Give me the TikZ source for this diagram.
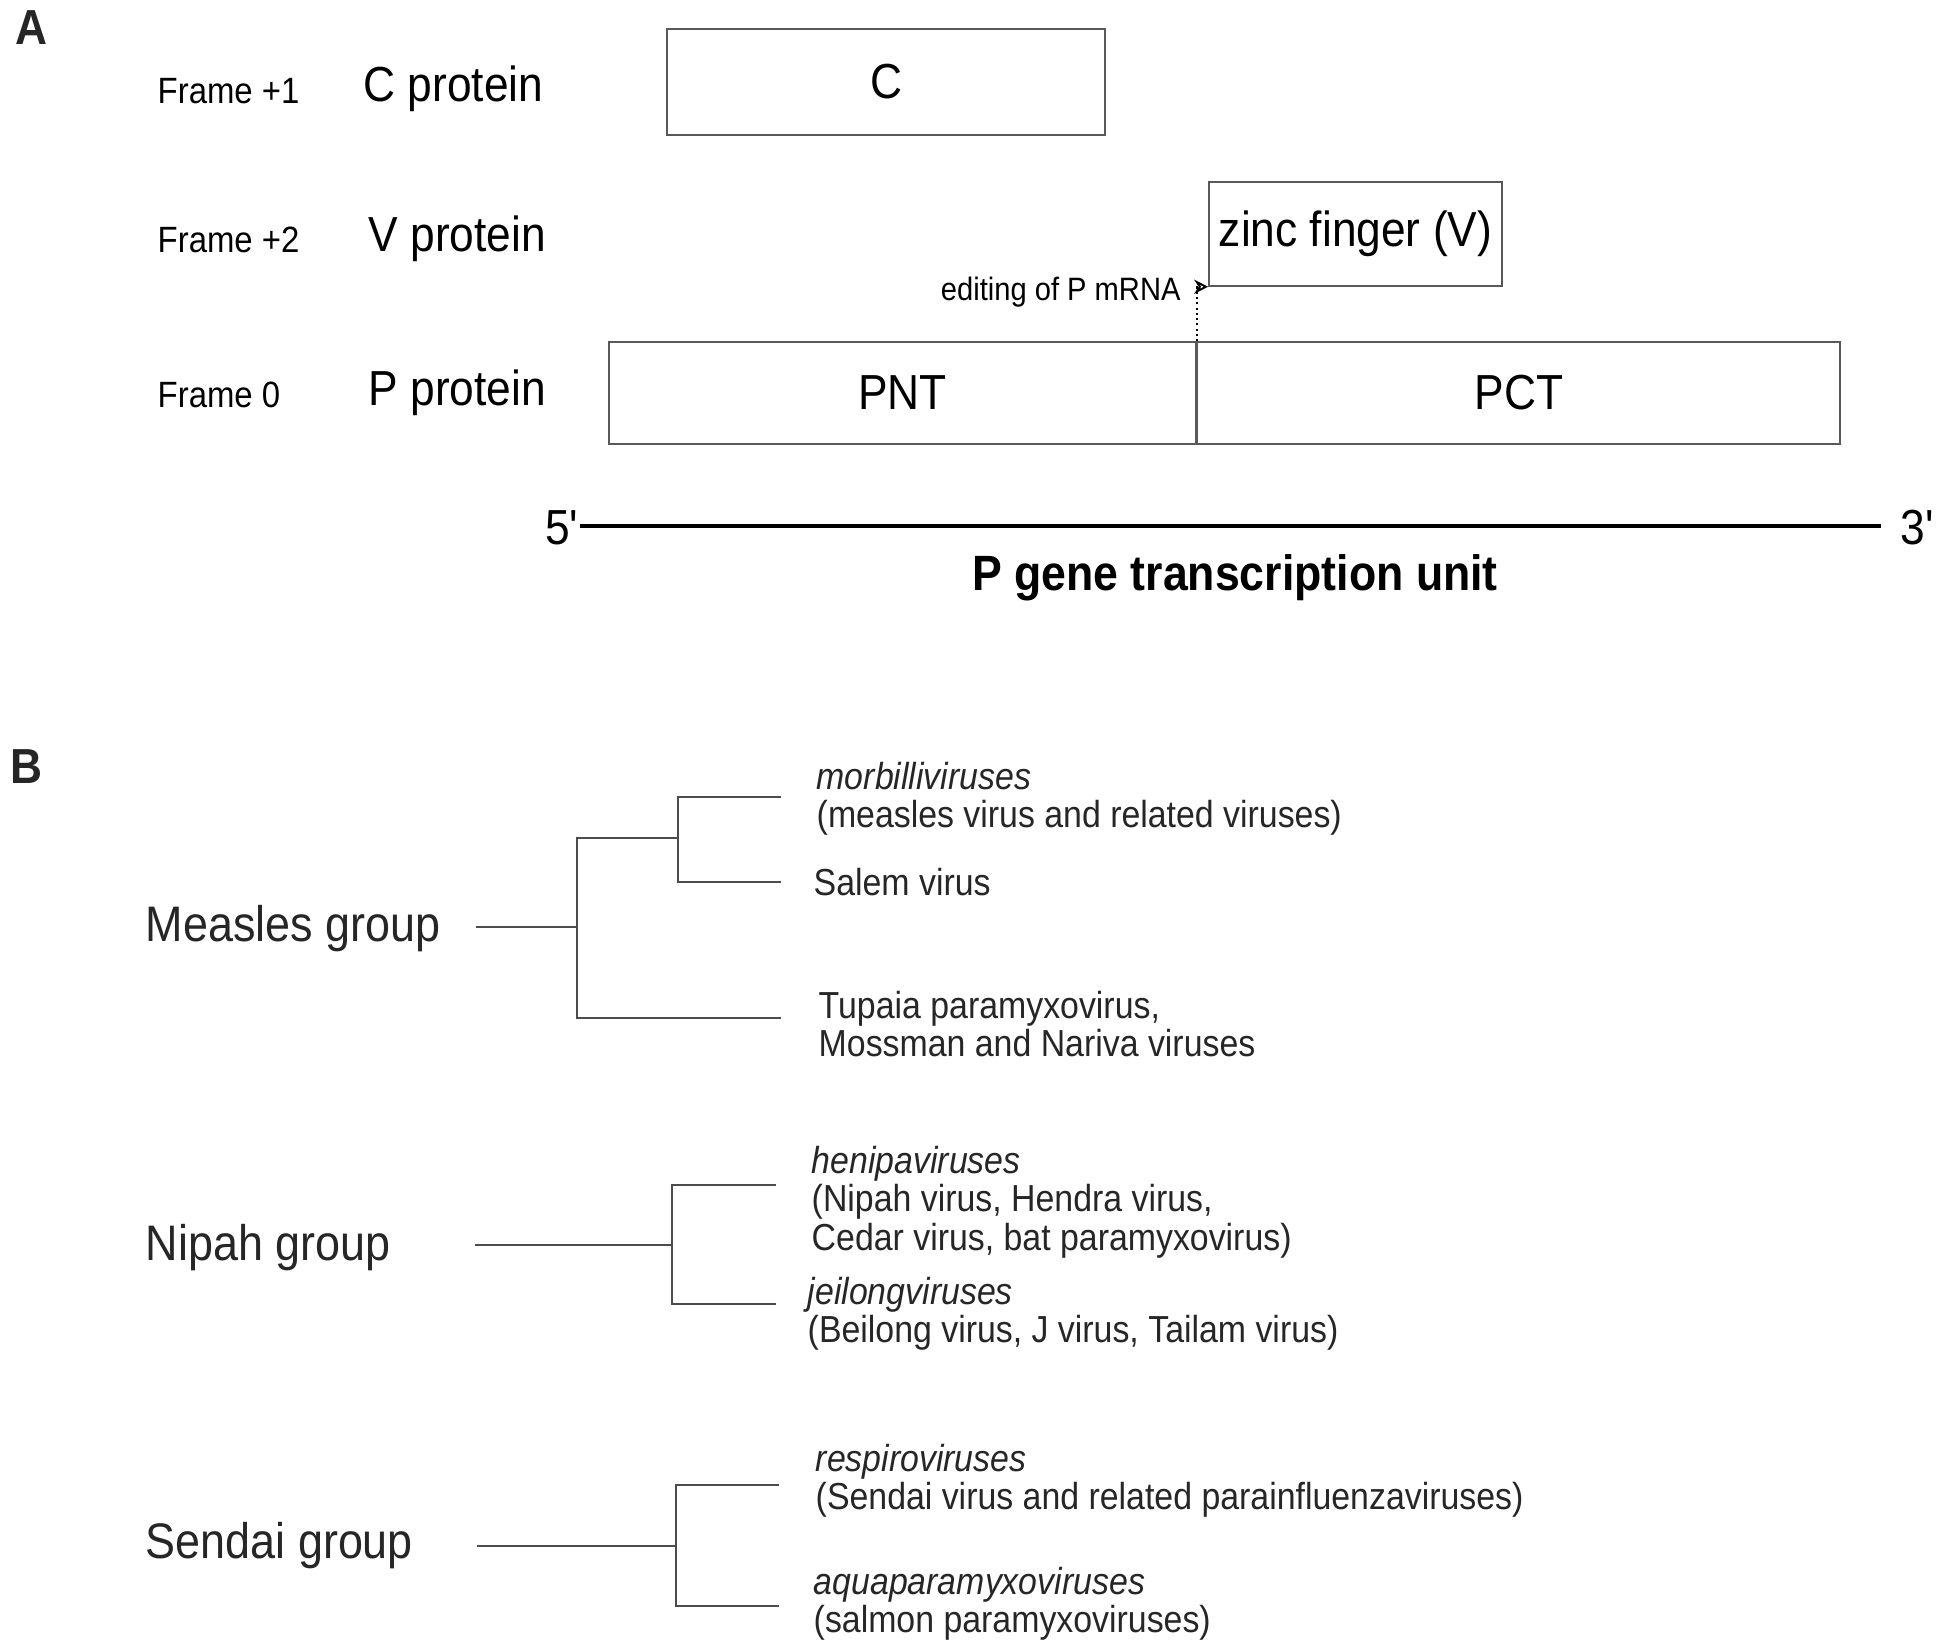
\documentclass[tikz,border=0pt]{standalone}
\usepackage{fontspec}
\setmainfont{Liberation Sans}[FakeStretch=0.9]
\usepackage{tikz}
\usetikzlibrary{arrows.meta, positioning}
\tikzstyle{big} = [inner sep=0pt, font=\fontsize{14}{16}\selectfont]
\tikzstyle{small} = [inner sep=0pt, font=\fontsize{10.4}{12}\selectfont]
\tikzstyle{leaf} = [inner sep=0pt, align=left, font=\fontsize{10.7}{10.9}\selectfont, text=black!85]
\tikzstyle{grp} = [inner sep=0pt, anchor=west, font=\fontsize{14.2}{16}\selectfont, text=black!85]
\tikzstyle{panel} = [inner sep=0pt, font=\fontsize{14}{16}\bfseries\selectfont, text=black!85]
\tikzstyle{frame} = [draw=black!65, line width=0.4pt, inner sep=2pt, big]
\tikzstyle{tree} = [draw=black!70, line width=0.45pt]
\tikzstyle{rna} = [line width=0.9pt]
\tikzstyle{edit} = [dash pattern=on 0.6pt off 0.9pt, line width=0.55pt, -{Stealth[open, length=4pt, width=4pt]}]

\begin{document}
\begin{tikzpicture}[x=0.01cm, y=-0.01cm]
    \useasboundingbox (0,0) rectangle (1944,1650);
    % panel A
    \node[panel] (A) at (31,28) {A};
    \node[small, anchor=west] (f1) at (157,91) {Frame +1};
    \node[small, anchor=west] (f2) at (157,240) {Frame +2};
    \node[small, anchor=west] (f0) at (157,395) {Frame 0};
    \node[big, anchor=west] (cprot) at (363,89) {C protein};
    \node[big, anchor=west] (vprot) at (368,239) {V protein};
    \node[big, anchor=west] (pprot) at (368,393) {P protein};
    \node[frame, minimum width=4.38cm, minimum height=1.06cm] (cbox) at (886,82) {C};
    \node[frame, minimum width=2.93cm, minimum height=1.04cm] (zinc) at (1355.5,234) {\raisebox{0.3cm}{}zinc finger (V)};
    \node[frame, minimum width=5.87cm, minimum height=1.02cm] (pnt) at (902.5,393) {PNT};
    \node[frame, minimum width=6.42cm, minimum height=1.02cm, anchor=west] (pct) at (pnt.east) {PCT};
    \draw[edit] (pnt.north east) |- (zinc.south west);
    \node[small, font=\fontsize{9.2}{11}\selectfont, left=0.27cm of zinc.south west, yshift=-0.05cm] (editing) {editing of P mRNA};
    \node[big, anchor=east] (five) at (580,528) {5\textquotesingle};
    \node[big, anchor=west] (three) at (1900,528) {3\textquotesingle};
    \draw[rna, shorten >=5.4pt] (five.east |- 0,526) -- (three.west |- 0,526);
    \node[big, font=\fontsize{14.1}{16}\bfseries\selectfont] (unit) at (1235,578) {P gene transcription unit};

    % panel B
    \node[panel] (B) at (27,767) {B};
    \node[grp] (measles) at (145,929) {Measles group};
    \node[grp] (nipah) at (145,1248) {Nipah group};
    \node[grp] (sendai) at (145,1546) {Sendai group};

    \coordinate (mroot) at (476,927);
    \coordinate (mfork) at (577,927);
    \coordinate (msub) at (678,838);
    \coordinate (mleaf1) at (781,797);
    \coordinate (mleaf2) at (781,882);
    \coordinate (mleaf3) at (781,1018);
    \draw[tree] (mroot) -- (mfork) |- (msub);
    \draw[tree] (mfork) |- (mleaf3);
    \draw[tree] (mleaf1) -| (msub) |- (mleaf2);
    \node[leaf, right=0.35cm of mleaf1, yshift=-0.02cm] (morb) {\textit{morbilliviruses}\\(measles virus and related viruses)};
    \node[leaf, right=0.32cm of mleaf2] (salem) {Salem virus};
    \node[leaf, right=0.37cm of mleaf3, yshift=-0.06cm] (tupaia) {Tupaia paramyxovirus,\\Mossman and Nariva viruses};

    \coordinate (nroot) at (475,1245);
    \coordinate (nfork) at (672,1245);
    \coordinate (nleaf1) at (776,1185);
    \coordinate (nleaf2) at (776,1304);
    \draw[tree] (nroot) -- (nfork);
    \draw[tree] (nleaf1) -| (nfork) |- (nleaf2);
    \node[leaf, right=0.35cm of nleaf1, yshift=-0.17cm] (heni) {\textit{henipaviruses}\\(Nipah virus, Hendra virus,\\Cedar virus, bat paramyxovirus)};
    \node[leaf, right=0.31cm of nleaf2, yshift=-0.10cm] (jeil) {\textit{jeilongviruses}\\(Beilong virus, J virus, Tailam virus)};

    \coordinate (sroot) at (477,1546);
    \coordinate (sfork) at (676,1546);
    \coordinate (sleaf1) at (779,1485);
    \coordinate (sleaf2) at (779,1606);
    \draw[tree] (sroot) -- (sfork);
    \draw[tree] (sleaf1) -| (sfork) |- (sleaf2);
    \node[leaf, right=0.36cm of sleaf1, yshift=0.04cm] (respi) {\textit{respiroviruses}\\(Sendai virus and related parainfluenzaviruses)};
    \node[leaf, right=0.34cm of sleaf2, yshift=0.02cm] (aqua) {\textit{aquaparamyxoviruses}\\(salmon paramyxoviruses)};
\end{tikzpicture}
\end{document}
